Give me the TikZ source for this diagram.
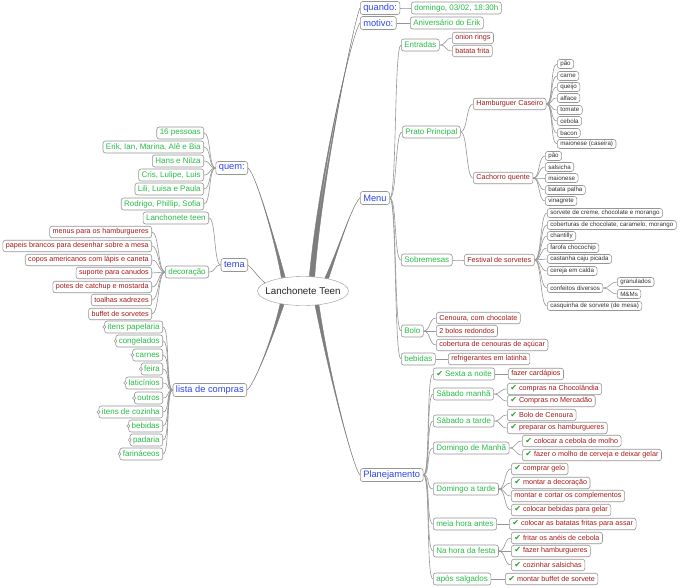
\documentclass[tikz,border=0pt]{standalone}
\usepackage{fontspec}
\setmainfont{Liberation Sans}
\newfontfamily\chkfont{DejaVu Sans}
\usepackage{xcolor}
\usepackage{tikz}
\usetikzlibrary{positioning, shapes.geometric, calc, backgrounds}

\definecolor{mmblue}{RGB}{45,70,235}
\definecolor{mmgreen}{RGB}{40,190,70}
\definecolor{mmred}{RGB}{165,25,25}
\definecolor{mmcheck}{RGB}{40,165,40}
\definecolor{mmline}{RGB}{150,150,150}
\definecolor{mmtrunk}{RGB}{125,125,125}
\newcommand\chk{{\chkfont\color{mmcheck}\fontsize{8}{8}\selectfont ✔}\hspace{2pt}}

\tikzset{
  box/.style={draw=mmline, fill=white, rounded corners=2.5pt, line width=0.6pt, inner xsep=3pt, inner ysep=1pt},
  lvA/.style={box, text=mmblue, font=\fontsize{9.3}{11}\selectfont, minimum height=13pt},
  lvB/.style={box, text=mmgreen, font=\fontsize{8}{10}\selectfont, minimum height=12pt},
  lvC/.style={box, text=mmred, font=\fontsize{7.2}{9}\selectfont, minimum height=11.5pt},
  lvD/.style={box, text=black!80, font=\fontsize{6.2}{8}\selectfont, minimum height=9pt, inner ysep=0.5pt},
  twig/.style={draw=mmline, line width=0.6pt},
}
\newcommand\twigR[2]{\draw[twig] (#1.east) .. controls +(7,0) and +(-7,0) .. (#2.west);}
\newcommand\twigL[2]{\draw[twig] (#1.west) .. controls +(-7,0) and +(7,0) .. (#2.east);}
% tapered main branch: start, end, two controls, half width
\newcommand\trunk[5]{\filldraw[mmtrunk, line width=0.4pt] ($(#1)-(#5)$) .. controls #3 and #4 .. (#2)
  .. controls #4 and #3 .. ($(#1)+(#5)$) -- cycle;}

\begin{document}
\begin{tikzpicture}[x=1pt, y=-1pt]
  \useasboundingbox (0,0) rectangle (682,587);
  % centre
  \node[ellipse, draw=mmline, fill=white, inner xsep=-8pt, inner ysep=2pt, minimum width=91pt, minimum height=29pt,
    font=\fontsize{9.8}{11}\selectfont, text=black!85] (hub) at (303,291) {Lanchonete Teen};

  % right side
  \node[lvA, anchor=west] (quando) at (360,8) {quando:};
  \node[lvB, anchor=west] (dquando) at (411,8) {domingo, 03/02, 18:30h};
  \node[lvA, anchor=west] (motivo) at (360,23) {motivo:};
  \node[lvB, anchor=west] (dmotivo) at (410,23) {Aniversário do Erik};
  \node[lvA, anchor=west] (menu) at (360,198) {Menu};
  \node[lvA, anchor=west] (plan) at (360,475) {Planejamento};

  % Menu
  \node[lvB, anchor=west] (entradas) at (401,45) {Entradas};
  \node[lvC, anchor=west] (onion) at (452,38) {onion rings};
  \node[lvC, anchor=west] (fritas) at (452,51) {batata frita};
  \node[lvB, anchor=west] (prato) at (402,132) {Prato Principal};
  \node[lvC, anchor=west] (hamb) at (473,104) {Hamburguer Caseiro};
  \foreach \y/\t [count=\i] in {64/pão, 76/carne, 87/queijo, 98/alface, 110/tomate, 121/cebola, 133/bacon, 144/maionese (caseira)}
    \node[lvD, anchor=west] (hb\i) at (557,\y) {\t};
  \node[lvC, anchor=west] (dog) at (473,178) {Cachorro quente};
  \foreach \y/\t [count=\i] in {156/pão, 167/salsicha, 178/maionese, 190/batata palha, 201/vinagrete}
    \node[lvD, anchor=west] (hd\i) at (545,\y) {\t};
  \node[lvB, anchor=west] (sobremesas) at (401,260) {Sobremesas};
  \node[lvC, anchor=west] (festival) at (464,260) {Festival de sorvetes};
  \foreach \y/\t [count=\i] in {213/{sorvete de creme, chocolate e morango}, 225/{coberturas de chocolate, caramelo, morango},
      236/chantilly, 248/farofa chocochip, 259/castanha caju picada, 271/cereja em calda, 288/confeitos diversos,
      306/casquinha de sorvete (de mesa)}
    \node[lvD, anchor=west] (fs\i) at (547,\y) {\t};
  \node[lvD, anchor=west] (granulados) at (617,282) {granulados};
  \node[lvD, anchor=west] (mms) at (617,294) {M\&Ms};
  \node[lvB, anchor=west] (bolo) at (401,331) {Bolo};
  \foreach \y/\t [count=\i] in {318/{Cenoura, com chocolate}, 331/2 bolos redondos, 345/cobertura de cenouras de açúcar}
    \node[lvC, anchor=west] (bl\i) at (436,\y) {\t};
  \node[lvB, anchor=west] (bebidasM) at (401,359) {bebidas};
  \node[lvC, anchor=west] (refri) at (448,359) {refrigerantes em latinha};

  % Planejamento
  \node[lvB, anchor=west] (sexta) at (433,374) {\chk Sexta a noite};
  \node[lvB, anchor=west] (sabM) at (433,394) {Sábado manhã};
  \node[lvB, anchor=west] (sabT) at (433,421) {Sábado a tarde};
  \node[lvB, anchor=west] (domM) at (433,448) {Domingo de Manhã};
  \node[lvB, anchor=west] (domT) at (433,489) {Domingo a tarde};
  \node[lvB, anchor=west] (meia) at (433,524) {meia hora antes};
  \node[lvB, anchor=west] (festa) at (433,551) {Na hora da festa};
  \node[lvB, anchor=west] (apos) at (433,579) {após salgados};
  \node[lvC, anchor=west] (t1) at (508,374) {fazer cardápios};
  \node[lvC, anchor=west] (t2) at (507,389) {\chk compras na Chocolândia};
  \node[lvC, anchor=west] (t3) at (507,401) {\chk Compras no Mercadão};
  \node[lvC, anchor=west] (t4) at (507,415) {\chk Bolo de Cenoura};
  \node[lvC, anchor=west] (t5) at (507,428) {\chk preparar os hamburgueres};
  \node[lvC, anchor=west] (t6) at (522,441) {\chk colocar a cebola de molho};
  \node[lvC, anchor=west] (t7) at (522,455) {\chk fazer o molho de cerveja e deixar gelar};
  \node[lvC, anchor=west] (t8) at (511,469) {\chk comprar gelo};
  \node[lvC, anchor=west] (t9) at (511,483) {\chk montar a decoração};
  \node[lvC, anchor=west] (t10) at (511,496) {montar e cortar os complementos};
  \node[lvC, anchor=west] (t11) at (511,510) {\chk colocar bebidas para gelar};
  \node[lvC, anchor=west] (t12) at (509,524) {\chk colocar as batatas fritas para assar};
  \node[lvC, anchor=west] (t13) at (511,538) {\chk fritar os anéis de cebola};
  \node[lvC, anchor=west] (t14) at (511,551) {\chk fazer hamburgueres};
  \node[lvC, anchor=west] (t15) at (511,565) {\chk cozinhar salsichas};
  \node[lvC, anchor=west] (t16) at (505,579) {\chk montar buffet de sorvete};

  % left side
  \node[lvA, anchor=east] (quem) at (248,168) {quem:};
  \foreach \y/\t [count=\i] in {133/16 pessoas, 147/{Erik, Ian, Marina, Alê e Bia}, 161/Hans e Nilza,
      175/{Cris, Lulipe, Luis}, 189/{Lili, Luisa e Paula}, 204/{Rodrigo, Phillip, Sofia}}
    \node[lvB, anchor=east] (qm\i) at (204,\y) {\t};
  \node[lvA, anchor=east] (tema) at (248,265) {tema};
  \node[lvB, anchor=east] (teen) at (209,218) {Lanchonete teen};
  \node[lvB, anchor=east] (deco) at (209,272) {decoração};
  \foreach \y/\t [count=\i] in {232/menus para os hamburgueres, 246/papeis brancos para desenhar sobre a mesa,
      260/copos americanos com lápis e caneta, 273/suporte para canudos, 287/potes de catchup e mostarda,
      300/toalhas xadrezes, 314/buffet de sorvetes}
    \node[lvC, anchor=east] (dc\i) at (152,\y) {\t};
  \node[lvA, anchor=east] (lista) at (247,390) {lista de compras};
  \foreach \y/\t [count=\i] in {327/itens papelaria, 341/congelados, 355/carnes, 369/feira, 383/laticínios,
      398/outros, 412/itens de cozinha, 426/bebidas, 440/padaria, 454/farináceos}
    \node[lvB, anchor=east] (ls\i) at (163,\y) {\t};
  % folded markers
  \foreach \i in {1,...,10}
    \draw[mmline, fill=white, line width=0.5pt] (ls\i.west) circle (1.6pt);

  \begin{scope}[on background layer]
    \fill[white] (0,0) rectangle (682,587);
    % main branches
    \trunk{hub.56}{quando.west}{(322,180)}{(354,20)}{2,0}
    \trunk{hub.60}{motivo.west}{(318,180)}{(352,32)}{2,0}
    \trunk{hub.28}{menu.west}{(338,250)}{(352,205)}{2,0}
    \trunk{hub.146}{quem.east}{(275,240)}{(255,172)}{2,0}
    \trunk{hub.168}{tema.east}{(258,277)}{(252,268)}{1.5,1.5}
    \trunk{hub.212}{lista.east}{(272,340)}{(254,385)}{2,0}
    \trunk{hub.315}{plan.west}{(330,380)}{(354,470)}{2,0}
    % twigs
    \twigR{quando}{dquando}
    \twigR{motivo}{dmotivo}
    \foreach \c in {entradas, prato, sobremesas, bolo, bebidasM} {\twigR{menu}{\c}}
    \twigR{entradas}{onion}
    \twigR{entradas}{fritas}
    \twigR{prato}{hamb}
    \twigR{prato}{dog}
    \foreach \i in {1,...,8} {\twigR{hamb}{hb\i}}
    \foreach \i in {1,...,5} {\twigR{dog}{hd\i}}
    \twigR{sobremesas}{festival}
    \foreach \i in {1,...,8} {\twigR{festival}{fs\i}}
    \twigR{fs7}{granulados}
    \twigR{fs7}{mms}
    \foreach \i in {1,2,3} {\twigR{bolo}{bl\i}}
    \twigR{bebidasM}{refri}
    \foreach \c in {sexta, sabM, sabT, domM, domT, meia, festa, apos} {\twigR{plan}{\c}}
    \twigR{sexta}{t1}
    \foreach \i in {2,3} {\twigR{sabM}{t\i}}
    \foreach \i in {4,5} {\twigR{sabT}{t\i}}
    \foreach \i in {6,7} {\twigR{domM}{t\i}}
    \foreach \i in {8,...,11} {\twigR{domT}{t\i}}
    \twigR{meia}{t12}
    \foreach \i in {13,14,15} {\twigR{festa}{t\i}}
    \twigR{apos}{t16}
    \foreach \i in {1,...,6} {\twigL{quem}{qm\i}}
    \twigL{tema}{teen}
    \twigL{tema}{deco}
    \foreach \i in {1,...,7} {\twigL{deco}{dc\i}}
    \foreach \i in {1,...,10} {\twigL{lista}{ls\i}}
  \end{scope}
\end{tikzpicture}
\end{document}
